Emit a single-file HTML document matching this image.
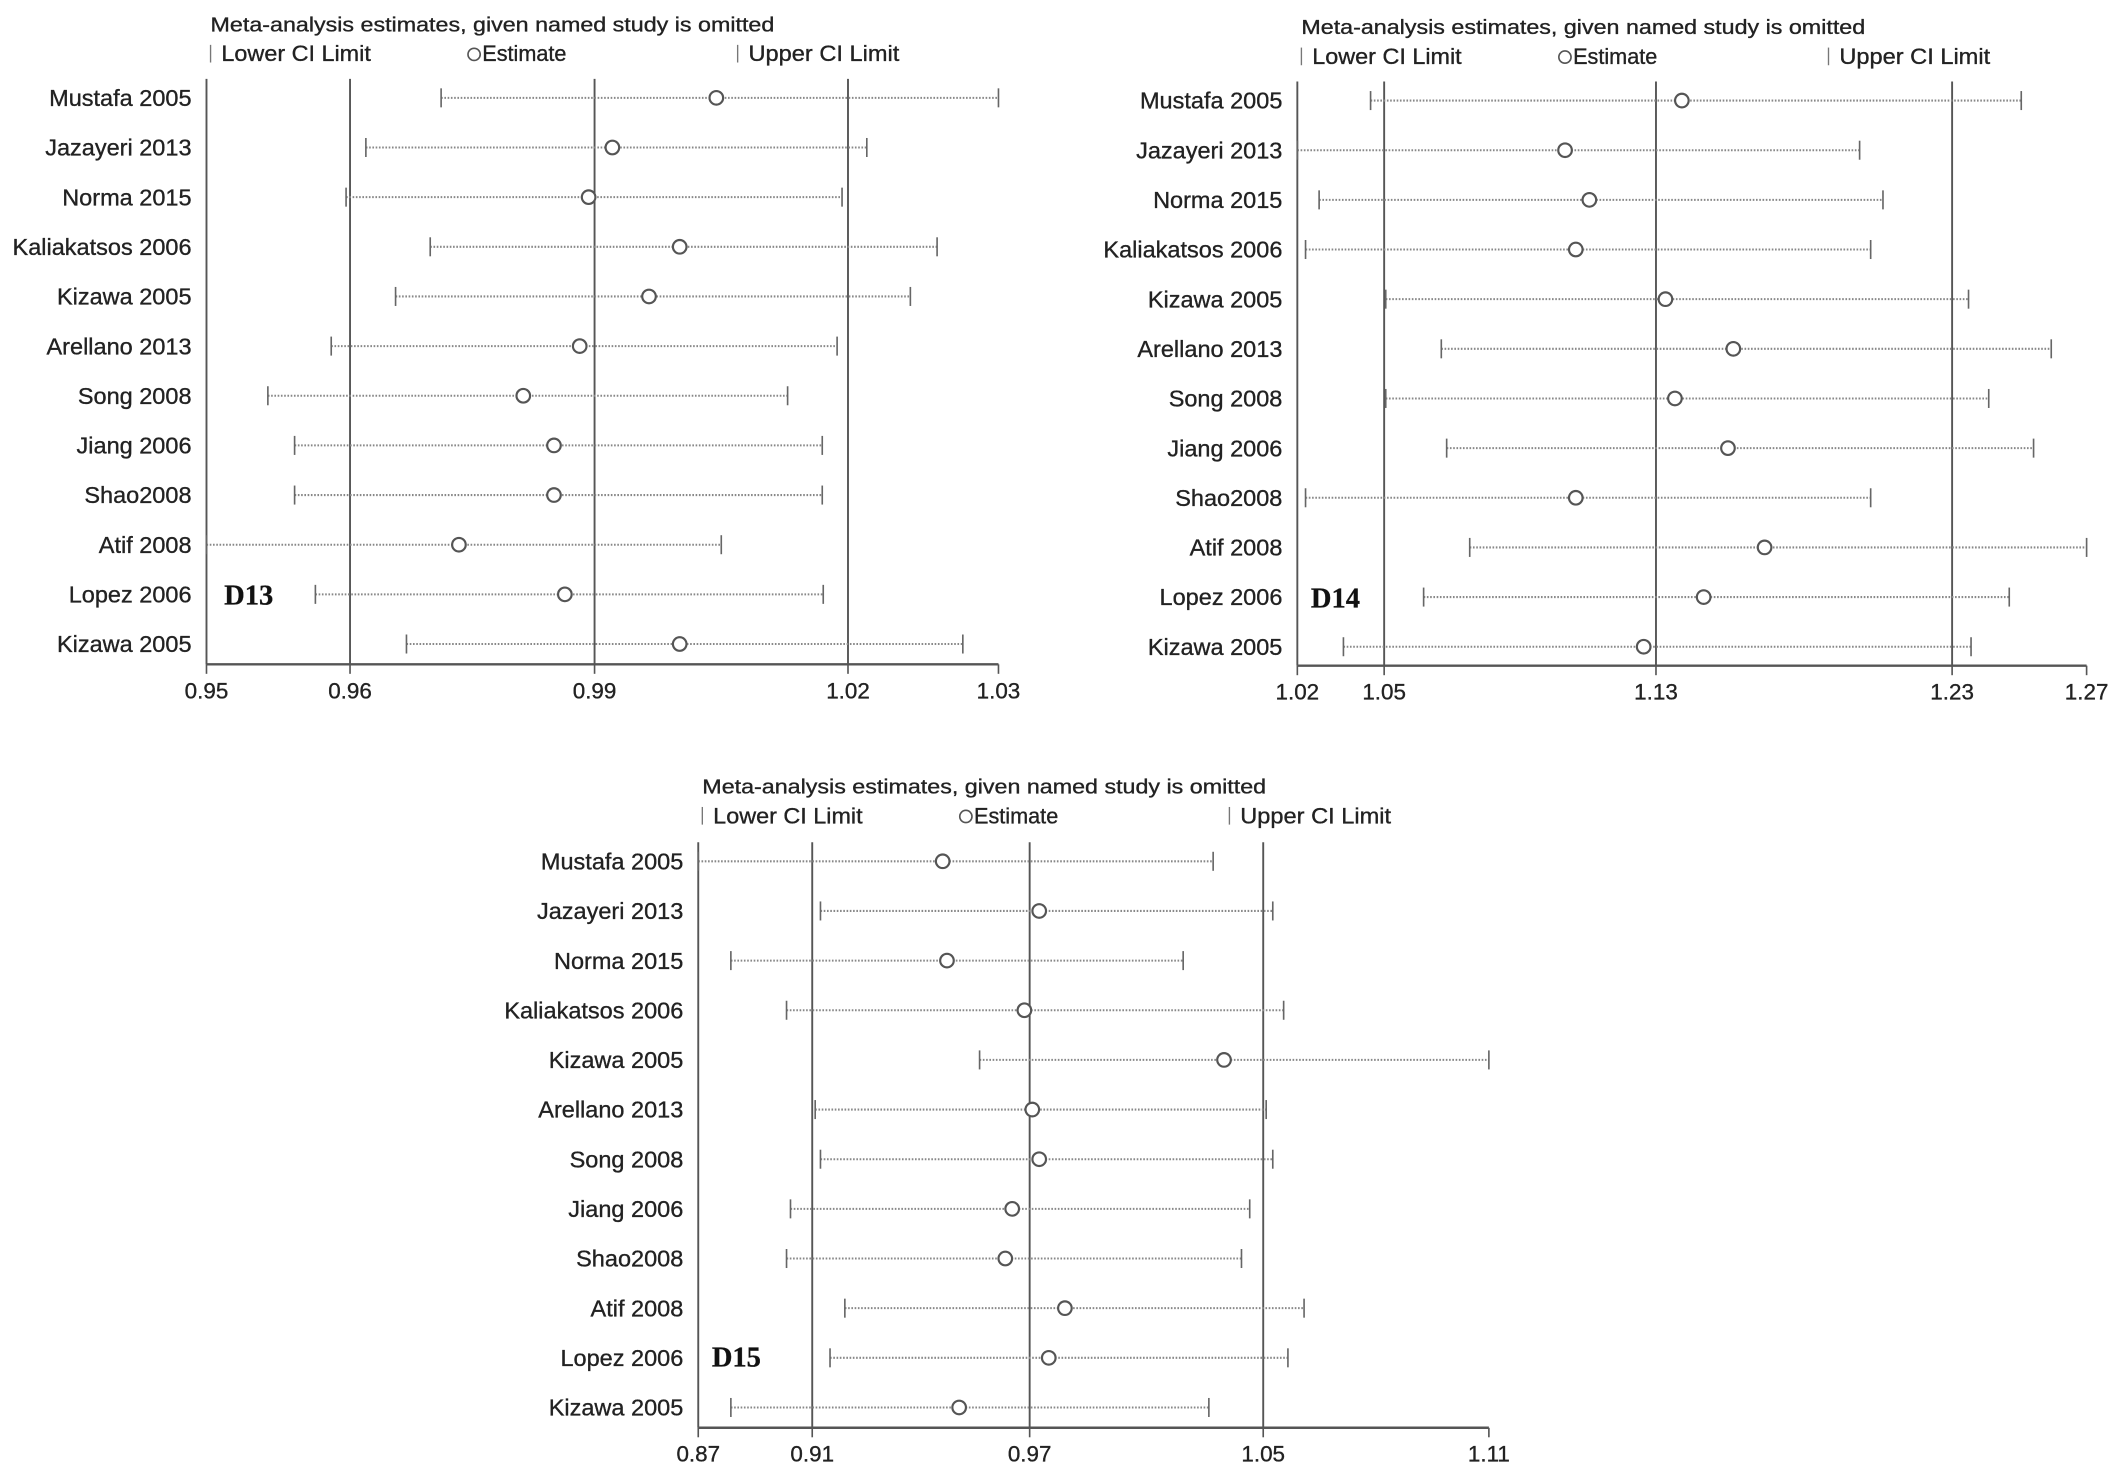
<!DOCTYPE html>
<html><head><meta charset="utf-8"><style>
html,body{margin:0;padding:0;background:#fff;}
svg{display:block;font-family:"Liberation Sans",Arial,sans-serif;}
svg text{stroke:#222;stroke-width:0.25px;}
</style></head><body>
<svg id="chart" width="2126" height="1474" viewBox="0 0 1565 1085" xmlns="http://www.w3.org/2000/svg"></svg>
<script>
const studies = ["Mustafa 2005","Jazayeri 2013","Norma 2015","Kaliakatsos 2006","Kizawa 2005","Arellano 2013","Song 2008","Jiang 2006","Shao2008","Atif 2008","Lopez 2006","Kizawa 2005"];

const d13Lower = [0.9737,0.9661,0.9641,0.9726,0.9691,0.9626,0.9562,0.9589,0.9589,0.9500,0.9610,0.9702];
const d13Est   = [1.0015,0.9910,0.9886,0.9978,0.9947,0.9877,0.9820,0.9851,0.9851,0.9755,0.9862,0.9978];
const d13Upper = [1.0300,1.0167,1.0142,1.0238,1.0211,1.0137,1.0087,1.0122,1.0122,1.0020,1.0123,1.0264];
const d13Ticks = [0.95,0.9645,0.9892,1.0148,1.03];
const d13TickLabels = ["0.95","0.96","0.99","1.02","1.03"];

const d14Lower = [1.0432,1.0200,1.0269,1.0226,1.0480,1.0656,1.0480,1.0673,1.0226,1.0746,1.0600,1.0346];
const d14Est   = [1.1418,1.1048,1.1125,1.1082,1.1366,1.1581,1.1396,1.1564,1.1082,1.1680,1.1487,1.1297];
const d14Upper = [1.2493,1.1981,1.2055,1.2016,1.2326,1.2588,1.2390,1.2532,1.2016,1.2700,1.2455,1.2334];
const d14Ticks = [1.02,1.0475,1.1336,1.2274,1.27];
const d14TickLabels = ["1.02","1.05","1.13","1.23","1.27"];

const d15Lower = [0.8700,0.9071,0.8799,0.8968,0.9554,0.9055,0.9071,0.8980,0.8968,0.9145,0.9100,0.8799];
const d15Est   = [0.9442,0.9735,0.9455,0.9690,1.0296,0.9714,0.9735,0.9653,0.9632,0.9813,0.9764,0.9492];
const d15Upper = [1.0263,1.0444,1.0172,1.0477,1.1100,1.0424,1.0444,1.0374,1.0349,1.0539,1.0490,1.0250];
const d15Ticks = [0.87,0.9046,0.9706,1.0415,1.11];
const d15TickLabels = ["0.87","0.91","0.97","1.05","1.11"];

const NS = "http://www.w3.org/2000/svg";
const svg = document.getElementById("chart");
function mk(tag, attrs, parent){
  const e = document.createElementNS(NS, tag);
  for (const k in attrs) e.setAttribute(k, attrs[k]);
  (parent||svg).appendChild(e);
  return e;
}

function panel(id, cfg, lower, est, upper, ticks, tickLabels){
  const g = mk("g", {});
  
  
  const x = v => cfg.x0 + (v - cfg.min) / (cfg.max - cfg.min) * (cfg.x1 - cfg.x0);
  const rowY = i => cfg.rowTop + i * cfg.rowStep;

  const t = mk("text", {x: cfg.x0 + 3, y: cfg.titleY, "font-size": 15, fill: "#222", textLength: 415, lengthAdjust: "spacingAndGlyphs"}, g);
  t.textContent = "Meta-analysis estimates, given named study is omitted";
  
  

  const lg = mk("g", {}, g);
  
  
  const ly = cfg.titleY + 22;
  mk("line", {x1: cfg.x0 + 3, x2: cfg.x0 + 3, y1: ly - 12, y2: ly + 1, stroke: "#777", "stroke-width": 1}, lg);
  let tt = mk("text", {x: cfg.x0 + 11, y: ly, "font-size": 16.5, fill: "#222", textLength: 110, lengthAdjust: "spacingAndGlyphs"}, lg);
  tt.textContent = "Lower CI Limit";
  
  
  mk("circle", {cx: cfg.x0 + 197, cy: ly - 5, r: 4.5, fill: "none", stroke: "#555", "stroke-width": 1.2}, lg);
  tt = mk("text", {x: cfg.x0 + 203, y: ly, "font-size": 16.5, fill: "#222", textLength: 62, lengthAdjust: "spacingAndGlyphs"}, lg);
  tt.textContent = "Estimate";
  
  
  mk("line", {x1: cfg.x0 + 391, x2: cfg.x0 + 391, y1: ly - 12, y2: ly + 1, stroke: "#777", "stroke-width": 1}, lg);
  tt = mk("text", {x: cfg.x0 + 399, y: ly, "font-size": 16.5, fill: "#222", textLength: 111, lengthAdjust: "spacingAndGlyphs"}, lg);
  tt.textContent = "Upper CI Limit";
  
  

  for (let k = 1; k < ticks.length - 1; k++) {
    const gl = mk("line", {x1: x(ticks[k]), x2: x(ticks[k]), y1: cfg.axisTop, y2: cfg.axisY, stroke: "#555", "stroke-width": 1.4}, g);
    
    
  }
  const ya = mk("line", {x1: cfg.x0, x2: cfg.x0, y1: cfg.axisTop, y2: cfg.axisY, stroke: "#555", "stroke-width": 1.4}, g);
  
  
  const xa = mk("line", {x1: cfg.x0, x2: cfg.x1, y1: cfg.axisY, y2: cfg.axisY, stroke: "#555", "stroke-width": 1.8}, g);
  
  
  for (let k = 0; k < ticks.length; k++) {
    const tx = x(ticks[k]);
    mk("line", {x1: tx, x2: tx, y1: cfg.axisY, y2: cfg.axisY + 7, stroke: "#555", "stroke-width": 1.2}, g);
    const tl = mk("text", {x: tx, y: cfg.axisY + 25, "font-size": 16.5, "text-anchor": "middle", fill: "#222"}, g);
    tl.textContent = tickLabels[k];
    
    
  }

  for (let i = 0; i < studies.length; i++) {
    const y = rowY(i);
    const lb = mk("text", {x: cfg.x0 - 11, y: y + 6, "font-size": 17.3, "text-anchor": "end", fill: "#222"}, g);
    lb.textContent = studies[i];
    
    
    const row = mk("g", {}, g);
    
    
    const xl = x(lower[i]), xu = x(upper[i]), xe = x(est[i]);
    mk("line", {x1: xl, x2: xu, y1: y, y2: y, stroke: "#888", "stroke-width": 1.5, "stroke-dasharray": "1.2 1.2"}, row);
    const cl = mk("line", {x1: xl, x2: xl, y1: y - 7, y2: y + 7, stroke: "#666", "stroke-width": 1.2}, row);
    
    
    const cu = mk("line", {x1: xu, x2: xu, y1: y - 7, y2: y + 7, stroke: "#666", "stroke-width": 1.2}, row);
    
    
    const c = mk("circle", {cx: xe, cy: y, r: 5, fill: "#fff", stroke: "#555", "stroke-width": 1.6}, row);
    
    
  }
  const pl = mk("text", {x: cfg.labelX, y: cfg.labelY, "font-size": 21, "font-weight": "bold", "font-family": "Liberation Serif, serif", fill: "#111"}, g);
  pl.textContent = id;
  
  
}

panel("D13", {x0:152, x1:735, min:0.95, max:1.03, axisY:489, axisTop:58, rowTop:72, rowStep:36.55, titleY:23, labelX:165, labelY:445}, d13Lower, d13Est, d13Upper, d13Ticks, d13TickLabels);
panel("D14", {x0:955, x1:1536, min:1.02, max:1.27, axisY:490, axisTop:60, rowTop:74, rowStep:36.55, titleY:25, labelX:965, labelY:447}, d14Lower, d14Est, d14Upper, d14Ticks, d14TickLabels);
panel("D15", {x0:514, x1:1096, min:0.87, max:1.11, axisY:1051, axisTop:620, rowTop:634, rowStep:36.55, titleY:584, labelX:524, labelY:1006}, d15Lower, d15Est, d15Upper, d15Ticks, d15TickLabels);
</script>
</body></html>
